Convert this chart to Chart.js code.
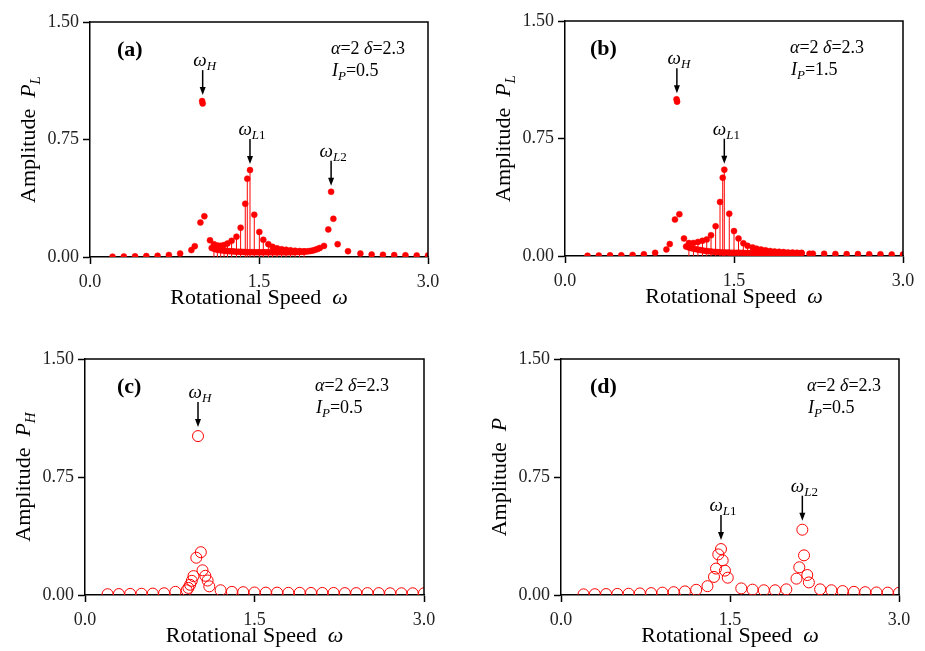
<!DOCTYPE html>
<html>
<head>
<meta charset="utf-8">
<script src="https://cdn.jsdelivr.net/npm/chart.js@4.4.1/dist/chart.umd.min.js"></script>
<style>
  body { margin: 0; background: #fff; width: 925px; height: 651px; position: relative; overflow: hidden; }
  canvas { position: absolute; }
</style>
</head>
<body>
<canvas id="chartA"></canvas>
<canvas id="chartB"></canvas>
<canvas id="chartC"></canvas>
<canvas id="chartD"></canvas>
<script>
// ---- data ----
const xTickVals = [0, 1.5, 3.0];
const yTickVals = [0, 0.75, 1.5];

// (a) P_L, Ip = 0.5
const xA = [0.2, 0.3, 0.4, 0.5, 0.6, 0.7, 0.8, 0.9, 0.93, 0.98, 0.995, 1.0, 1.015, 1.065,
            2.077, 2.115, 2.14, 2.16, 2.198, 2.29, 2.4, 2.5, 2.6, 2.7, 2.8, 2.9, 3.0];
const yA = [0.002, 0.003, 0.004, 0.006, 0.008, 0.013, 0.022, 0.044, 0.069, 0.22, 0.995, 0.98, 0.26, 0.107,
            0.071, 0.176, 0.416, 0.244, 0.082, 0.037, 0.022, 0.016, 0.014, 0.012, 0.011, 0.01, 0.01];
const xAstem = [1.10, 1.13, 1.16, 1.19, 1.22, 1.257, 1.30, 1.337, 1.378, 1.396, 1.42, 1.458,
                1.503, 1.538, 1.583, 1.62, 1.66, 1.70, 1.74, 1.78, 1.82, 1.86, 1.90];
const yAstem = [0.082, 0.074, 0.072, 0.076, 0.086, 0.103, 0.13, 0.187, 0.34, 0.50, 0.555, 0.27,
                0.16, 0.11, 0.082, 0.065, 0.056, 0.05, 0.046, 0.043, 0.04, 0.038, 0.036];
const xAlow = [1.08, 1.10, 1.12, 1.14, 1.16, 1.18, 1.20, 1.22, 1.24, 1.26, 1.28, 1.30, 1.32, 1.34, 1.36, 1.38,
               1.40, 1.42, 1.44, 1.46, 1.48, 1.50, 1.52, 1.54, 1.56, 1.58, 1.60, 1.62, 1.64, 1.66, 1.68, 1.70,
               1.72, 1.74, 1.76, 1.78, 1.80, 1.82, 1.84, 1.86, 1.88, 1.90, 1.92, 1.94, 1.96, 1.98, 2.00, 2.02, 2.04];
const yAlow = [0.058, 0.052, 0.048, 0.045, 0.043, 0.041, 0.039, 0.038, 0.037, 0.036,
               0.035, 0.034, 0.033, 0.033, 0.032, 0.032, 0.031, 0.031, 0.031, 0.030,
               0.030, 0.030, 0.030, 0.030, 0.030, 0.030, 0.030, 0.030, 0.030, 0.030,
               0.030, 0.030, 0.030, 0.030, 0.030, 0.031, 0.031, 0.031, 0.032, 0.032,
               0.033, 0.034, 0.035, 0.037, 0.039, 0.042, 0.046, 0.051, 0.058];

// (b) P_L, Ip = 1.5
const xB = [0.2, 0.3, 0.4, 0.5, 0.6, 0.7, 0.8, 0.9, 0.93, 0.976, 0.99, 0.995, 1.015, 1.056,
            2.17, 2.20, 2.30, 2.40, 2.50, 2.60, 2.70, 2.80, 2.90, 3.0];
const yB = [0.002, 0.003, 0.004, 0.005, 0.007, 0.011, 0.02, 0.042, 0.076, 0.233, 1.0, 0.985, 0.267, 0.112,
            0.015, 0.015, 0.014, 0.013, 0.012, 0.012, 0.011, 0.011, 0.01, 0.01];
const xBstem = [1.10, 1.14, 1.18, 1.22, 1.258, 1.296, 1.337, 1.376, 1.40, 1.414, 1.458, 1.50, 1.54, 1.583,
                1.62, 1.665, 1.70, 1.74, 1.78, 1.82, 1.86, 1.90, 1.94, 1.98, 2.02, 2.06, 2.10];
const yBstem = [0.083, 0.083, 0.09, 0.097, 0.106, 0.133, 0.19, 0.345, 0.50, 0.551, 0.27, 0.159, 0.112, 0.081,
                0.065, 0.055, 0.047, 0.041, 0.036, 0.032, 0.029, 0.027, 0.025, 0.023, 0.022, 0.021, 0.02];
const xBlow = [1.075, 1.1, 1.125, 1.15, 1.175, 1.2, 1.225, 1.25, 1.275, 1.3,
               1.325, 1.35, 1.375, 1.4, 1.425, 1.45, 1.475, 1.5, 1.525, 1.55,
               1.575, 1.6, 1.625, 1.65, 1.675, 1.7, 1.725, 1.75, 1.775, 1.8,
               1.825, 1.85, 1.875, 1.9, 1.925, 1.95, 1.975, 2.0, 2.025, 2.05, 2.075, 2.1];
const yBlow = [0.060, 0.054, 0.049, 0.045, 0.041, 0.038, 0.035, 0.032, 0.030, 0.028,
               0.026, 0.025, 0.024, 0.023, 0.022, 0.022, 0.021, 0.021, 0.020, 0.020,
               0.020, 0.019, 0.019, 0.019, 0.019, 0.018, 0.018, 0.018, 0.018, 0.018,
               0.018, 0.017, 0.017, 0.017, 0.017, 0.017, 0.016, 0.016, 0.016, 0.016, 0.016, 0.016];

// (c) P_H, Ip = 0.5
const xC = [0.2, 0.3, 0.4, 0.5, 0.6, 0.7, 0.8, 0.9, 0.915, 0.93, 0.945, 0.96, 0.985, 1.0,
            1.025, 1.04, 1.065, 1.085, 1.10, 1.2, 1.3, 1.4, 1.5, 1.6, 1.7, 1.8, 1.9, 2.0,
            2.1, 2.2, 2.3, 2.4, 2.5, 2.6, 2.7, 2.8, 2.9, 3.0];
const yC = [0.005, 0.006, 0.007, 0.008, 0.009, 0.011, 0.02, 0.03, 0.045, 0.065, 0.09, 0.12, 0.237, 1.01,
            0.272, 0.157, 0.122, 0.092, 0.055, 0.03, 0.02, 0.018, 0.016, 0.015, 0.015, 0.014, 0.014, 0.013,
            0.013, 0.013, 0.012, 0.012, 0.012, 0.012, 0.011, 0.011, 0.011, 0.011];

// (d) P, Ip = 0.5
const xD = [0.2, 0.3, 0.4, 0.5, 0.6, 0.7, 0.8, 0.9, 1.0, 1.1, 1.2, 1.3,
            1.358, 1.376, 1.396, 1.42, 1.435, 1.455, 1.48,
            1.6, 1.7, 1.8, 1.9, 2.0,
            2.09, 2.115, 2.142, 2.157, 2.186, 2.2,
            2.3, 2.4, 2.5, 2.6, 2.7, 2.8, 2.9, 3.0];
const yD = [0.004, 0.005, 0.006, 0.007, 0.008, 0.01, 0.012, 0.015, 0.018, 0.023, 0.033, 0.056,
            0.115, 0.168, 0.258, 0.292, 0.22, 0.155, 0.11,
            0.042, 0.034, 0.03, 0.03, 0.036,
            0.104, 0.176, 0.415, 0.252, 0.127, 0.08,
            0.036, 0.03, 0.025, 0.02, 0.018, 0.016, 0.015, 0.014];

// peaks that get an arrow + omega label
const peaksA = [{x: 1.0, y: 0.995, sub: 'H'}, {x: 1.42, y: 0.555, sub: 'L1'}, {x: 2.14, y: 0.416, sub: 'L2'}];
const peaksB = [{x: 0.993, y: 1.0, sub: 'H'}, {x: 1.414, y: 0.551, sub: 'L1'}];
const peaksC = [{x: 1.0, y: 1.01, sub: 'H'}];
const peaksD = [{x: 1.42, y: 0.292, sub: 'L1'}, {x: 2.142, y: 0.415, sub: 'L2'}];

// ---- drawing helpers ----
const SERIF = '"Liberation Serif", "Times New Roman", serif';
const RED = '#ff0000';
const fnt = (size, style) => (style ? style + ' ' : '') + size + 'px ' + SERIF;

function pts(xs, ys) {
    return xs.map((x, i) => ({x: x, y: ys[i]}));
}

// vertical lines from 0 up to each value, broken by nulls
function stems(xs, ys) {
    let out = [];
    xs.forEach((x, i) => {
        out.push({x: x, y: 0});
        out.push({x: x, y: ys[i]});
        out.push({x: x, y: null});
    });
    return out;
}

function richWidth(ctx, parts) {
    let w = 0;
    parts.forEach(p => { ctx.font = p.font; w += ctx.measureText(p.text).width; });
    return w;
}

function drawRich(ctx, parts, x, y, align) {
    let cx = align === 'center' ? x - richWidth(ctx, parts) / 2 : x;
    parts.forEach(p => {
        ctx.font = p.font;
        ctx.fillText(p.text, cx, y + (p.dy || 0));
        cx += ctx.measureText(p.text).width;
    });
}

function omegaLabel(sub) {
    let parts = [{text: 'ω', font: fnt(19, 'italic')}];
    parts.push({text: sub[0], font: fnt(13, 'italic'), dy: 4});
    if (sub.length > 1) parts.push({text: sub.slice(1), font: fnt(13), dy: 4});
    return parts;
}

function panelPlugin(p) {
    return {
        id: 'panelText',
        afterDraw(chart) {
            const ctx = chart.ctx;
            const a = chart.chartArea;
            const sx = chart.scales.x, sy = chart.scales.y;
            ctx.save();
            ctx.fillStyle = '#000';
            ctx.strokeStyle = '#000';
            ctx.textBaseline = 'alphabetic';
            ctx.textAlign = 'left';

            // frame top + right
            ctx.lineWidth = 1.5;
            ctx.beginPath();
            ctx.moveTo(a.left, a.top);
            ctx.lineTo(a.right, a.top);
            ctx.lineTo(a.right, a.bottom);
            ctx.stroke();

            // panel letter
            ctx.font = fnt(22, 'bold');
            ctx.fillText(p.letter, a.left + p.letterX, a.top + 34);

            // parameters
            drawRich(ctx, [
                {text: 'α', font: fnt(18, 'italic')},
                {text: '=2 ', font: fnt(18)},
                {text: 'δ', font: fnt(18, 'italic')},
                {text: '=2.3', font: fnt(18)}
            ], a.left + p.noteX, a.top + 32, 'left');
            drawRich(ctx, [
                {text: 'I', font: fnt(18, 'italic')},
                {text: 'P', font: fnt(13, 'italic'), dy: 4},
                {text: '=' + p.ip, font: fnt(18)}
            ], a.left + p.noteX + 1, a.top + 54, 'left');

            // arrows to the resonance peaks
            p.peaks.forEach(pk => {
                const x = sx.getPixelForValue(pk.x);
                const tip = sy.getPixelForValue(pk.y) - p.gap;
                const top = tip - 25;
                ctx.lineWidth = 1.5;
                ctx.beginPath();
                ctx.moveTo(x, top);
                ctx.lineTo(x, tip - 6);
                ctx.stroke();
                ctx.beginPath();
                ctx.moveTo(x - 3, tip - 8);
                ctx.lineTo(x + 3, tip - 8);
                ctx.lineTo(x, tip);
                ctx.closePath();
                ctx.fill();
                drawRich(ctx, omegaLabel(pk.sub), x + 2, top - 4, 'center');
            });

            // axis titles
            drawRich(ctx, [
                {text: 'Rotational Speed  ', font: fnt(22)},
                {text: 'ω', font: fnt(22, 'italic')}
            ], (a.left + a.right) / 2, a.bottom + 47, 'center');

            ctx.translate(a.left - 55, (a.top + a.bottom) / 2);
            ctx.rotate(-Math.PI / 2);
            let yParts = [{text: 'Amplitude  ', font: fnt(22)}, {text: 'P', font: fnt(22, 'italic')}];
            if (p.ySub) yParts.push({text: p.ySub, font: fnt(15, 'italic'), dy: 5});
            drawRich(ctx, yParts, 0, 0, 'center');
            ctx.restore();
        }
    };
}

function makeChart(id, area, datasets, p) {
    const cv = document.getElementById(id);
    const padL = 90, padT = 22, padR = 12, padB = 60;
    cv.width = (area.r - area.l) + padL + padR;
    cv.height = (area.b - area.t) + padT + padB;
    cv.style.left = (area.l - padL) + 'px';
    cv.style.top = (area.t - padT) + 'px';

    const tickFont = {family: SERIF, size: 18};
    return new Chart(cv.getContext('2d'), {
        type: 'scatter',
        data: {datasets: datasets},
        options: {
            responsive: false,
            animation: false,
            layout: {padding: {left: 0, top: padT, right: padR, bottom: 0}},
            plugins: {legend: {display: false}, tooltip: {enabled: false}},
            scales: {
                x: {
                    type: 'linear', min: 0, max: 3,
                    afterBuildTicks: s => { s.ticks = xTickVals.map(v => ({value: v})); },
                    ticks: {callback: v => v.toFixed(1), font: tickFont, color: '#222', padding: 7, maxRotation: 0, autoSkip: false},
                    grid: {drawOnChartArea: false, drawTicks: true, tickLength: 7, tickWidth: 1.5, tickColor: '#000'},
                    border: {color: '#000', width: 1.5},
                    afterFit: s => { s.height = padB; s.paddingLeft = 0; s.paddingRight = 0; }
                },
                y: {
                    type: 'linear', min: 0, max: 1.5,
                    afterBuildTicks: s => { s.ticks = yTickVals.map(v => ({value: v})); },
                    ticks: {callback: v => v.toFixed(2), font: tickFont, color: '#222', padding: 4, autoSkip: false},
                    grid: {drawOnChartArea: false, drawTicks: true, tickLength: 7, tickWidth: 1.5, tickColor: '#000'},
                    border: {color: '#000', width: 1.5},
                    afterFit: s => { s.width = padL; s.paddingTop = 0; s.paddingBottom = 0; }
                }
            }
        },
        plugins: [panelPlugin(p)]
    });
}

function dots(xs, ys) {
    return {data: pts(xs, ys), pointRadius: 3, pointBackgroundColor: RED, pointBorderColor: RED, pointBorderWidth: 0.5};
}
function rings(xs, ys) {
    return {data: pts(xs, ys), pointRadius: 5.5, pointBackgroundColor: 'rgba(0,0,0,0)', pointBorderColor: RED, pointBorderWidth: 1};
}
function stemLines(xs, ys) {
    return {data: stems(xs, ys), showLine: true, spanGaps: false, pointRadius: 0, borderColor: RED, borderWidth: 1};
}

addEventListener('DOMContentLoaded', () => {
    makeChart('chartA', {l: 90, t: 22, r: 428, b: 257},
        [dots(xA, yA), dots(xAstem, yAstem), dots(xAlow, yAlow), stemLines(xAstem, yAstem)],
        {letter: '(a)', letterX: 27, noteX: 241, ip: '0.5', ySub: 'L', peaks: peaksA, gap: 6});
    makeChart('chartB', {l: 565, t: 21, r: 903, b: 256},
        [dots(xB, yB), dots(xBstem, yBstem), dots(xBlow, yBlow), stemLines(xBstem, yBstem)],
        {letter: '(b)', letterX: 25, noteX: 225, ip: '1.5', ySub: 'L', peaks: peaksB, gap: 6});
    makeChart('chartC', {l: 85, t: 359, r: 424, b: 595},
        [rings(xC, yC)],
        {letter: '(c)', letterX: 32, noteX: 230, ip: '0.5', ySub: 'H', peaks: peaksC, gap: 9});
    makeChart('chartD', {l: 561, t: 359, r: 899, b: 595},
        [rings(xD, yD)],
        {letter: '(d)', letterX: 29, noteX: 246, ip: '0.5', ySub: '', peaks: peaksD, gap: 9});
});
</script>
</body>
</html>
